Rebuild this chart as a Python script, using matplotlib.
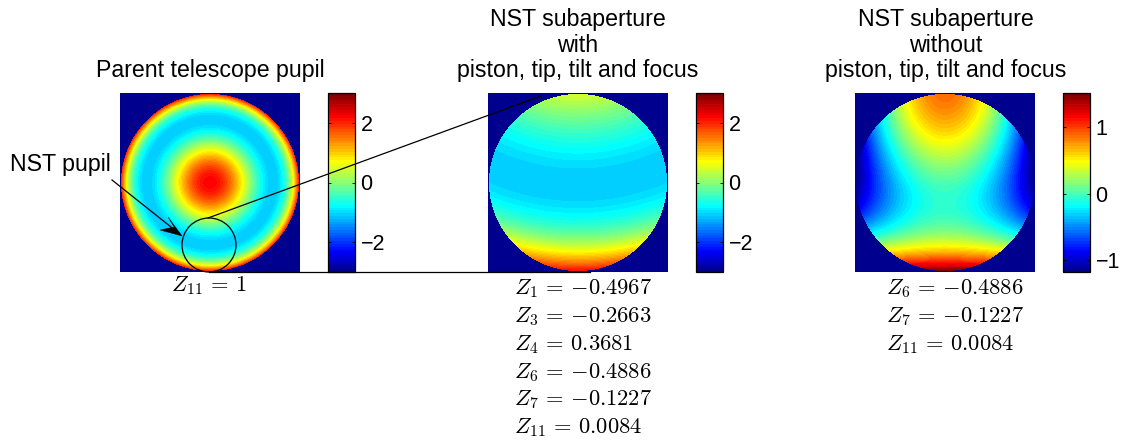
import numpy as np
import matplotlib
matplotlib.use("Agg")
import matplotlib.pyplot as plt
from matplotlib.colors import ListedColormap
from matplotlib.patches import Circle, Polygon

plt.rcParams['font.family'] = ['Liberation Sans', 'DejaVu Sans']
plt.rcParams['mathtext.fontset'] = 'cm'

# Zernike coefficients printed under each panel
parent_terms = [11]
parent_coefs = [1]
with_terms = [1, 3, 4, 6, 7, 11]
with_coefs = [-0.4967, -0.2663, 0.3681, -0.4886, -0.1227, 0.0084]
without_terms = [6, 7, 11]
without_coefs = [-0.4886, -0.1227, 0.0084]

titles = ["Parent telescope pupil",
          "NST subaperture\nwith\npiston, tip, tilt and focus",
          "NST subaperture\nwithout\npiston, tip, tilt and focus"]
limits = [(-3, 3), (-3, 3), (None, None)]
cbar_ticks = [[-2, 0, 2], [-2, 0, 2], [-1, 0, 1]]

W, H = 1121, 442
GRID = 180


# jet the way matlab builds it, 64 levels
def matlab_jet(n=64):
    x = np.arange(1, n + 1) / n
    r = np.clip(np.minimum(4 * x - 1.5, -4 * x + 4.5), 0, 1)
    g = np.clip(np.minimum(4 * x - 0.5, -4 * x + 3.5), 0, 1)
    b = np.clip(np.minimum(4 * x + 0.5, -4 * x + 2.5), 0, 1)
    return ListedColormap(np.column_stack([r, g, b]))


def zernike(j, r, t):
    if j == 1:
        return np.ones_like(r)
    if j == 3:
        return 2 * r * np.sin(t)
    if j == 4:
        return np.sqrt(3) * (2 * r**2 - 1)
    if j == 6:
        return np.sqrt(6) * r**2 * np.cos(2 * t)
    if j == 7:
        return np.sqrt(8) * (3 * r**3 - 2 * r) * np.sin(t)
    if j == 11:
        return np.sqrt(5) * (6 * r**4 - 6 * r**2 + 1)
    raise ValueError(j)


def wavefront(terms, coefs):
    u = np.linspace(-1, 1, GRID)
    x, y = np.meshgrid(u, u)
    r = np.hypot(x, y)
    t = np.arctan2(y, x)
    w = sum(c * zernike(j, r, t) for j, c in zip(terms, coefs))
    return np.ma.masked_where(r > 0.995, w)


def px_axes(fig, left, top, right, bottom):
    return fig.add_axes([left / W, 1 - bottom / H, (right - left) / W, (bottom - top) / H])


def coef_label(j, c):
    # braces keep the minus tight against the number
    return r"$Z_{%d}\,=\,%s$" % (j, ("%g" % c).replace("-", "{-}"))


cmap = matlab_jet()
cmap.set_bad(cmap(0))

fig = plt.figure(figsize=(W / 100, H / 100), dpi=100)

maps = [wavefront(parent_terms, parent_coefs),
        wavefront(with_terms, with_coefs),
        wavefront(without_terms, without_coefs)]
img_left = [120, 488, 855]
cbar_left = [328, 696, 1063]

for i in range(3):
    ax = px_axes(fig, img_left[i], 93, img_left[i] + 180, 272)
    vmin, vmax = limits[i]
    if vmin is None:
        vmin, vmax = maps[i].min(), maps[i].max()
    im = ax.imshow(maps[i], cmap=cmap, vmin=vmin, vmax=vmax, origin='lower',
                   extent=[-1, 1, -1, 1], aspect='auto', interpolation='nearest')
    ax.axis('off')
    cax = px_axes(fig, cbar_left[i], 93, cbar_left[i] + 27, 272)
    cb = fig.colorbar(im, cax=cax, ticks=cbar_ticks[i])
    cb.outline.set_linewidth(0.9)
    cax.tick_params(direction='in', left=True, right=True, length=2, width=0.6,
                    labelsize=15.5, pad=4)

# annotations are placed in pixel coordinates on a transparent top layer
over = fig.add_axes([0, 0, 1, 1])
over.set_xlim(0, W)
over.set_ylim(H, 0)
over.axis('off')
over.patch.set_alpha(0)

over.add_patch(Circle((209, 245), 27, fill=False, ec='black', lw=0.9))
over.plot([208, 541], [218, 96], color='black', lw=0.9)
over.plot([209, 590], [272, 272], color='black', lw=0.9)
over.plot([112, 176], [180, 231], color='black', lw=0.9)
over.add_patch(Polygon([(182, 236), (160, 230), (174, 227), (168, 217)], fc='black', ec='black', lw=0.3))

over.text(10, 165, "NST pupil", fontsize=16.7, va='center', ha='left')

title_x = [210, 578, 946]
for i in range(3):
    over.text(title_x[i], 82, titles[i], fontsize=16.7, ha='center', va='bottom',
              linespacing=1.13)

over.text(209, 286, coef_label(parent_terms[0], parent_coefs[0]), fontsize=16.2, ha='center', va='center')

col2_y = [289, 317, 345, 373, 400, 428]
for j, c, y in zip(with_terms, with_coefs, col2_y):
    over.text(514.5, y, coef_label(j, c), fontsize=16.2, ha='left', va='center')

col3_y = [289, 317, 345]
for j, c, y in zip(without_terms, without_coefs, col3_y):
    over.text(886.5, y, coef_label(j, c), fontsize=16.2, ha='left', va='center')

fig.savefig("out.png", dpi=100)
